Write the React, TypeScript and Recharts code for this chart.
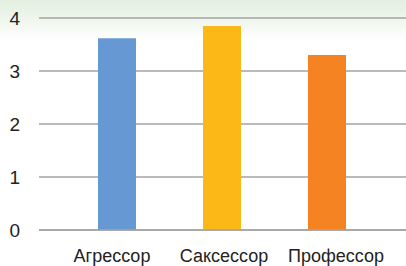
import { Bar, BarChart, CartesianGrid, Cell, XAxis, YAxis } from "recharts";

const categories = ["Агрессор", "Саксессор", "Профессор"];
const values = [3.62, 3.85, 3.3];
const colors = ["#6699d3", "#fbb817", "#f58322"];
const yTicks = [0, 1, 2, 3, 4];

const data = categories.map((name, i) => ({ name, value: values[i] }));

export default function App() {
  return (
    <div
      style={{
        position: "absolute",
        left: 0,
        top: 0,
        width: 406,
        height: 266,
        background: "linear-gradient(to bottom, #e2efe0 0px, #f3f8f1 25px, #ffffff 40px)",
      }}
    >
      <BarChart
        width={406}
        height={266}
        data={data}
        margin={{ top: 18, right: 0, bottom: 0, left: 0 }}
      >
        <CartesianGrid vertical={false} stroke="#a3a3a3" strokeWidth={1.3} />
        <XAxis
          xAxisId="bars"
          dataKey="name"
          hide
          height={0}
          padding={{ left: 25, right: 27 }}
        />
        <XAxis
          xAxisId="labels"
          dataKey="name"
          height={36}
          padding={{ left: 17, right: 14 }}
          tickLine={false}
          axisLine={{ stroke: "#a3a3a3", strokeWidth: 1.5 }}
          tickMargin={13}
          tick={{ fontSize: 18, fill: "#222", fontFamily: "Liberation Sans, Arial, sans-serif" }}
        />
        <YAxis
          width={39}
          domain={[0, 4]}
          ticks={yTicks}
          tickLine={false}
          axisLine={false}
          tickMargin={13}
          tick={{ fontSize: 19, fill: "#222", fontFamily: "Liberation Sans, Arial, sans-serif" }}
        />
        <Bar xAxisId="bars" dataKey="value" barSize={38} isAnimationActive={false}>
          {data.map((d, i) => (
            <Cell key={d.name} fill={colors[i]} />
          ))}
        </Bar>
      </BarChart>
    </div>
  );
}
